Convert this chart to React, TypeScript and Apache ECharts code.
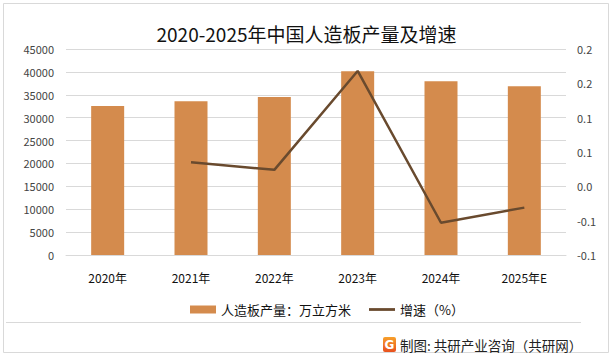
import React, { useEffect, useRef } from "react";
import * as echarts from "echarts";

const categories = ["2020年", "2021年", "2022年", "2023年", "2024年", "2025年E"];
const outputValues = [32540, 33560, 34500, 40150, 37970, 36880];
const growthValues: (number | null)[] = [null, 0.035, 0.024, 0.168, -0.053, -0.031];
const leftTicks = { min: 0, max: 45000, interval: 5000 };
const rightTicks = { min: -0.1, max: 0.2, interval: 0.05 };
const barName = "人造板产量：万立方米";
const lineName = "增速（%）";
const titleText = "2020-2025年中国人造板产量及增速";
const footerText = "制图: 共研产业咨询（共研网）";

const FONT = "'Noto Sans CJK SC', 'Noto Sans', sans-serif";

function fmt1(v: number) {
  const s = v < 0 ? -1 : 1;
  const r = Math.round(Math.abs(v) * 10 + 1e-9) / 10;
  const out = s * r;
  return (out === 0 ? 0 : out).toFixed(1);
}

export default function App() {
  const ref = useRef<HTMLDivElement>(null);
  useEffect(() => {
    document.body.style.margin = "0";
    const chart = echarts.init(ref.current!, null, { renderer: "svg" });
    chart.setOption({
      animation: false,
      backgroundColor: "#ffffff",
      textStyle: { fontFamily: FONT },
      title: {
        text: titleText,
        left: "center",
        top: 19,
        textStyle: { fontFamily: FONT, fontSize: 19, fontWeight: "normal", color: "#111" },
      },
      grid: { left: 66, right: 47, top: 49, bottom: 104 },
      legend: {
        left: 185,
        top: 298,
        itemGap: 18,
        itemWidth: 26,
        itemHeight: 8,
        textStyle: { fontFamily: FONT, fontSize: 13, color: "#111" },
        data: [
          { name: barName, icon: "rect" },
          { name: lineName, icon: "path://M0,0 L28,0 L28,3 L0,3 Z" },
        ],
      },
      xAxis: {
        type: "category",
        data: categories,
        axisLine: { show: true, lineStyle: { color: "#d9d9d9", width: 1 } },
        axisTick: { show: false },
        axisLabel: { color: "#111", fontSize: 12, margin: 16, fontFamily: FONT },
      },
      yAxis: [
        {
          type: "value",
          min: leftTicks.min,
          max: leftTicks.max,
          interval: leftTicks.interval,
          axisLine: { show: false },
          axisTick: { show: false },
          axisLabel: {
            color: "#444",
            fontSize: 11,
            margin: 12,
            fontFamily: FONT,
            formatter: (v: number) => String(Math.round(v)),
          },
          splitLine: { lineStyle: { color: "#d9d9d9", width: 1 } },
        },
        {
          type: "value",
          min: rightTicks.min,
          max: rightTicks.max,
          interval: rightTicks.interval,
          axisLine: { show: false },
          axisTick: { show: false },
          splitLine: { show: false },
          axisLabel: {
            color: "#444",
            fontSize: 11,
            margin: 11,
            fontFamily: FONT,
            formatter: (v: number) => fmt1(v),
          },
        },
      ],
      series: [
        {
          name: barName,
          type: "bar",
          data: outputValues,
          barWidth: 33,
          itemStyle: { color: "#D48B4D" },
          yAxisIndex: 0,
        },
        {
          name: lineName,
          type: "line",
          data: growthValues,
          yAxisIndex: 1,
          symbol: "none",
          showSymbol: false,
          connectNulls: false,
          lineStyle: { color: "#694A2E", width: 2.5 },
          itemStyle: { color: "#694A2E" },
        },
      ],
      graphic: [
        {
          type: "rect",
          shape: { x: 3.5, y: 3.5, width: 605, height: 349 },
          style: { fill: "none", stroke: "#d9d9d9", lineWidth: 1 },
          silent: true,
        },
        {
          type: "line",
          shape: { x1: 6, y1: 322.5, x2: 581, y2: 322.5 },
          style: { stroke: "#d9d9d9", lineWidth: 1 },
          silent: true,
        },
        {
          type: "rect",
          shape: { x: 383, y: 337, width: 13, height: 15, r: 2 },
          style: {
            fill: new echarts.graphic.LinearGradient(0, 0, 0, 1, [
              { offset: 0, color: "#F7A12B" },
              { offset: 1, color: "#E8501E" },
            ]),
          },
          silent: true,
        },
        {
          type: "text",
          x: 389.5,
          y: 344.5,
          style: {
            text: "G",
            fill: "#ffffff",
            font: "bold 12px 'DejaVu Sans', sans-serif",
            align: "center",
            verticalAlign: "middle",
          },
          silent: true,
        },
        {
          type: "text",
          x: 400,
          y: 345,
          style: {
            text: footerText,
            fill: "#222",
            font: `13.5px ${FONT}`,
            align: "left",
            verticalAlign: "middle",
          },
          silent: true,
        },
      ],
    });
    return () => chart.dispose();
  }, []);
  return <div ref={ref} style={{ width: 613, height: 359 }} />;
}
